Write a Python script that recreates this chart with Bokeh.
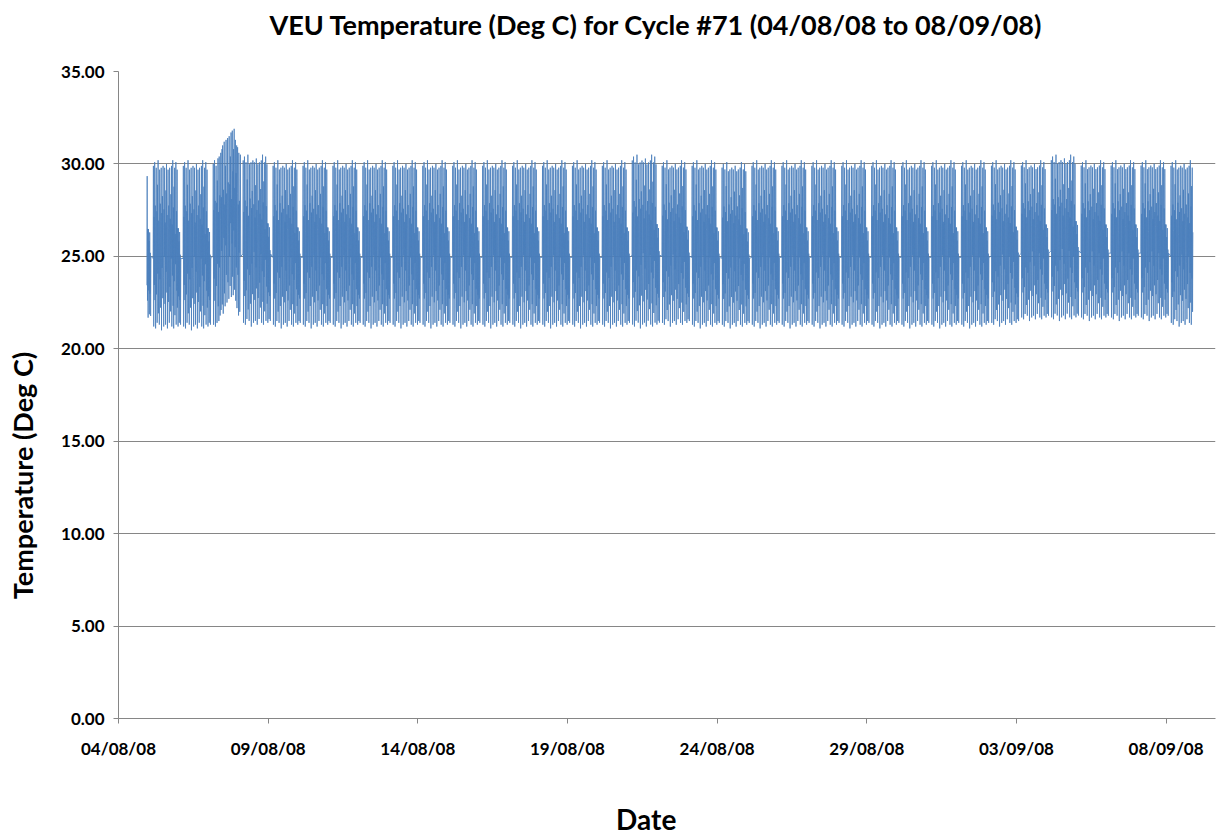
import numpy as np
from datetime import datetime, timedelta
from bokeh.plotting import figure
from bokeh.layouts import row, column
from bokeh.models import (ColumnDataSource, FixedTicker, DatetimeTickFormatter, PrintfTickFormatter,
                          Range1d, Label)
from bokeh.embed import file_html
from bokeh.resources import INLINE

TITLE = "VEU Temperature (Deg C) for Cycle #71 (04/08/08 to 08/09/08)"
X_LABEL = "Date"
Y_LABEL = "Temperature (Deg C)"
x_tick_labels = ["04/08/08", "09/08/08", "14/08/08", "19/08/08",
                 "24/08/08", "29/08/08", "03/09/08", "08/09/08"]
y_ticks = [0, 5, 10, 15, 20, 25, 30, 35]

# Typical day of 15-minute readings, from 03:45 to 02:00 next day (read from a typical block)
day_profile = [
    25.0, 29.9, 21.4, 27.2, 23.6, 30.1, 22.8, 27.8, 21.3, 26.4,
    29.8, 23.1, 27.5, 21.6, 28.9, 24.2, 30.2, 22.1, 27.0, 24.8,
    21.5, 29.7, 23.9, 27.9, 22.4, 26.2, 29.8, 21.2, 27.4, 24.5,
    28.3, 22.9, 29.9, 24.0, 21.4, 27.6, 25.1, 29.8, 22.6, 26.9,
    21.5, 28.6, 24.3, 30.0, 23.2, 27.3, 21.3, 26.5, 29.7, 22.7,
    27.8, 24.6, 21.6, 29.8, 23.5, 27.1, 22.2, 28.4, 25.0, 29.9,
    21.4, 26.8, 24.1, 30.2, 22.5, 27.7, 21.3, 28.8, 23.8, 29.8,
    22.0, 26.3, 24.7, 30.1, 21.5, 27.5, 23.3, 29.7, 22.4, 26.6,
    21.4, 26.6, 23.0, 25.9, 21.6, 26.4, 22.8, 25.2, 21.5, 25.0,
]

# 07/08/08 - warm day, readings from 03:45
anomaly_profile = [
    25.0, 30.0, 21.3, 27.5, 23.8, 30.2, 22.6, 28.0, 21.2, 26.8,
    29.9, 23.4, 27.9, 21.4, 29.1, 24.6, 30.3, 22.3, 27.4, 21.5,
    30.4, 24.4, 28.3, 21.8, 27.0, 30.6, 22.1, 28.2, 25.3, 30.8,
    22.4, 31.0, 25.0, 21.9, 28.6, 26.0, 31.2, 23.0, 27.8, 22.3,
    29.9, 25.6, 31.3, 24.0, 28.4, 22.5, 27.9, 31.4, 23.6, 29.0,
    26.2, 22.7, 31.5, 25.0, 28.9, 23.4, 30.4, 26.8, 31.7, 22.8,
    28.1, 25.7, 31.8, 23.9, 29.6, 22.9, 30.8, 26.4, 31.9, 23.2,
    28.7, 25.5, 31.3, 22.6, 29.5, 24.4, 31.0, 22.2, 28.4, 30.9,
    24.0, 27.8, 21.8, 30.6, 25.2, 28.0, 22.0, 27.4, 30.5, 25.0,
]

# Daily highest / lowest readings, day 0 = 04/08/08 ... day 35 = 08/09/08
day_hi = [29.8, 30.2, 30.2, 31.9, 30.5, 30.2, 30.2, 30.2, 30.2, 30.2,
          30.2, 30.2, 30.2, 30.2, 30.2, 30.2, 30.2, 30.5, 30.2, 30.2,
          30.1, 30.2, 30.2, 30.2, 30.2, 30.2, 30.2, 30.2, 30.2, 30.2,
          30.2, 30.5, 30.2, 30.2, 30.2, 30.2]
day_lo = [21.5, 21.0, 21.0, 21.2, 21.2, 21.1, 21.1, 21.1, 21.1, 21.1,
          21.1, 21.1, 21.1, 21.1, 21.1, 21.1, 21.1, 21.1, 21.2, 21.1,
          21.1, 21.1, 21.1, 21.1, 21.1, 21.1, 21.1, 21.1, 21.1, 21.2,
          21.5, 21.5, 21.5, 21.5, 21.5, 21.2]

start = datetime(2008, 8, 4)
P = np.array(day_profile)
pmin, pmax = P.min(), P.max()


def scaled(prof, hi, lo):
    return lo + (prof - pmin) / (pmax - pmin) * (hi - lo)


times, vals = [], []
tail = scaled(P[-14:], day_hi[0], day_lo[0])
t_end0 = start + timedelta(days=1, hours=2)
for i, v in enumerate(tail):
    times.append(t_end0 - timedelta(minutes=15 * (len(tail) - 1 - i)))
    vals.append(float(v))
for d in range(1, 36):
    t0 = start + timedelta(days=d, hours=3, minutes=45)
    prof = np.array(anomaly_profile) if d == 3 else scaled(P, day_hi[d], day_lo[d])
    n = len(prof) if d < 35 else 72
    for k in range(n):
        times.append(t0 + timedelta(minutes=15 * k))
        vals.append(float(prof[k]))

src = ColumnDataSource(dict(t=np.array(times, dtype="datetime64[ms]"), v=vals))

epoch = datetime(1970, 1, 1)
x_ticks = [(datetime.strptime(s, "%d/%m/%y") - epoch).total_seconds() * 1000 for s in x_tick_labels]

# ---- page geometry (pixels) ----
PAGE_W, PAGE_H = 1217, 839
YLAB_W = 55          # strip holding the y-axis title
HEAD_H = 61          # strip holding the main title
FRAME_TOP, FRAME_BOTTOM, FRAME_LEFT, FRAME_RIGHT = 71, 718, 118, 1215
MAIN_TOP_BORDER = FRAME_TOP - HEAD_H
MAIN_BOTTOM_BORDER = 50
MAIN_W = PAGE_W - YLAB_W
MAIN_H = MAIN_TOP_BORDER + (FRAME_BOTTOM - FRAME_TOP) + MAIN_BOTTOM_BORDER
FOOT_H = PAGE_H - HEAD_H - MAIN_H
PX_PER_DAY = 29.93
FONT = "Lato"

x0 = start
x1 = start + timedelta(days=(FRAME_RIGHT - FRAME_LEFT) / PX_PER_DAY)

p = figure(width=MAIN_W, height=MAIN_H, x_axis_type="datetime", output_backend="svg",
           toolbar_location=None, x_range=Range1d(x0, x1), y_range=Range1d(0, 35),
           min_border_left=FRAME_LEFT - YLAB_W, min_border_right=PAGE_W - FRAME_RIGHT,
           min_border_top=MAIN_TOP_BORDER, min_border_bottom=MAIN_BOTTOM_BORDER)
p.outline_line_color = None
p.background_fill_color = "white"
p.border_fill_color = "white"

p.line(x="t", y="v", source=src, line_color="#4a7ebb", line_width=1, line_alpha=0.8)

p.xgrid.visible = False
p.ygrid.ticker = FixedTicker(ticks=y_ticks)
p.ygrid.grid_line_color = "#868686"
p.ygrid.grid_line_width = 1

for ax in (p.xaxis[0], p.yaxis[0]):
    ax.axis_line_color = "#868686"
    ax.major_tick_line_color = "#868686"
    ax.minor_tick_line_color = None
    ax.major_tick_in = 0
    ax.major_tick_out = 5
    ax.major_label_text_font = FONT
    ax.major_label_text_font_style = "bold"
    ax.major_label_text_font_size = "17px"
    ax.major_label_text_color = "#000000"

p.yaxis.ticker = FixedTicker(ticks=y_ticks)
p.yaxis.formatter = PrintfTickFormatter(format="%.2f")
p.yaxis.major_label_standoff = 9
p.xaxis.ticker = FixedTicker(ticks=x_ticks)
fmt = "%d/%m/%y"
p.xaxis.formatter = DatetimeTickFormatter(milliseconds=fmt, seconds=fmt, minsec=fmt, minutes=fmt,
                                          hourmin=fmt, hours=fmt, days=fmt, months=fmt, years=fmt)
p.xaxis.major_label_standoff = 14


def text_strip(w, h, x_lo, y_top):
    """A blank figure whose data coordinates follow page pixels (y flipped)."""
    f = figure(width=w, height=h, output_backend="svg", toolbar_location=None,
               x_axis_location=None, y_axis_location=None,
               x_range=Range1d(x_lo, x_lo + w), y_range=Range1d(y_top + h, y_top),
               min_border=0, min_border_left=0, min_border_right=0,
               min_border_top=0, min_border_bottom=0)
    f.outline_line_color = None
    f.background_fill_color = "white"
    f.border_fill_color = "white"
    f.grid.visible = False
    return f


text_style = dict(text_font=FONT, text_font_style="bold", text_color="#000000")

# strip positions, corrected for the observed rendering offset of the wide strips
head = text_strip(MAIN_W, HEAD_H, YLAB_W, 0)
head.add_layout(Label(x=624.5, y=24, text=TITLE, text_align="center", text_baseline="alphabetic",
                      text_font_size="27px", **text_style))

foot = text_strip(MAIN_W, FOOT_H, YLAB_W, HEAD_H + MAIN_H)
foot.add_layout(Label(x=614, y=818, text=X_LABEL, text_align="center", text_baseline="alphabetic",
                      text_font_size="28px", **text_style))

ylab = text_strip(YLAB_W, PAGE_H, 0, 0)
ylab.add_layout(Label(x=22, y=475, text=Y_LABEL, text_align="center", text_baseline="middle",
                      angle=np.pi / 2, text_font_size="27px", **text_style))

layout = row(ylab, column(head, p, foot))

open("out.html", "w").write(file_html(layout, INLINE))
